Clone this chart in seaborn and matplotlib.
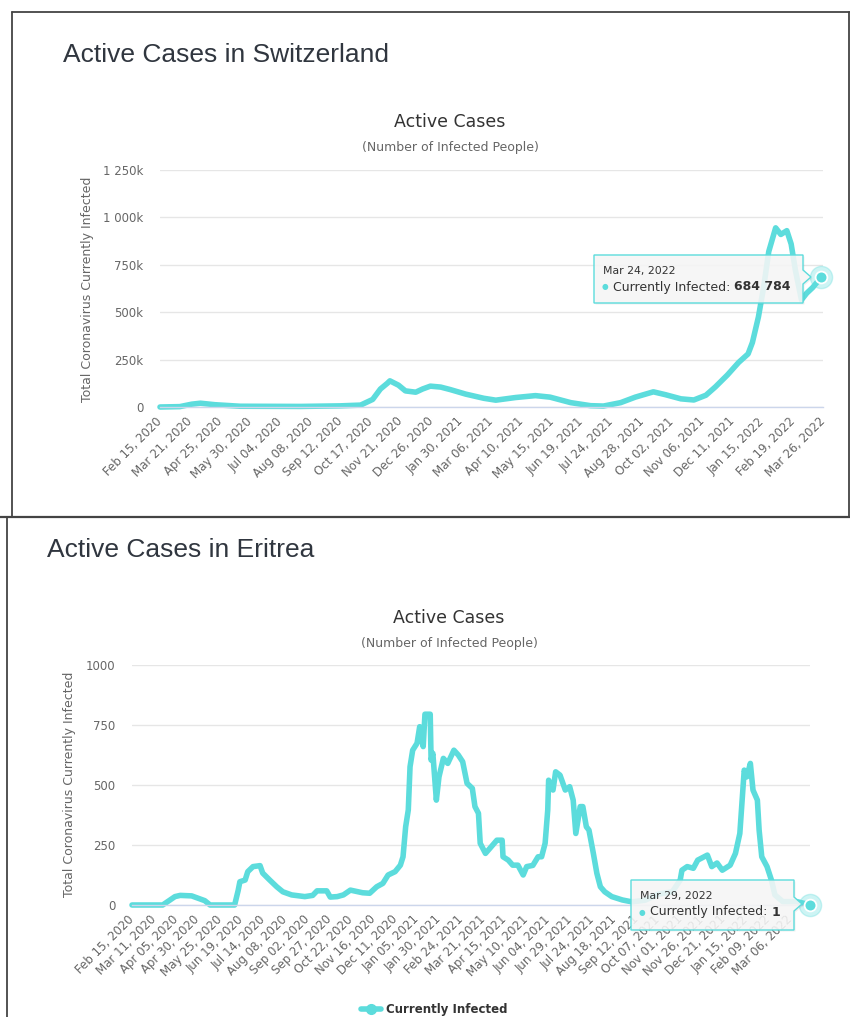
import numpy as np
import pandas as pd
import matplotlib
matplotlib.use("Agg")
import matplotlib.pyplot as plt
import seaborn as sns
from matplotlib.lines import Line2D
from matplotlib.patches import Polygon

# ---------------- data ----------------
ch_dates = ["2020-02-15", "2020-03-09", "2020-03-23", "2020-04-02", "2020-04-19", "2020-05-18",
            "2020-07-27", "2020-09-11", "2020-10-05", "2020-10-19", "2020-10-28", "2020-11-05",
            "2020-11-08", "2020-11-18", "2020-11-26", "2020-12-08", "2020-12-16", "2020-12-25",
            "2021-01-06", "2021-01-17", "2021-02-04", "2021-02-25", "2021-03-11", "2021-04-03",
            "2021-04-26", "2021-05-13", "2021-06-06", "2021-06-29", "2021-07-14", "2021-08-03",
            "2021-08-20", "2021-09-10", "2021-09-24", "2021-10-12", "2021-10-27", "2021-11-10",
            "2021-11-21", "2021-12-05", "2021-12-18", "2021-12-29", "2022-01-03", "2022-01-10",
            "2022-01-16", "2022-01-22", "2022-01-30", "2022-02-05", "2022-02-12", "2022-02-17",
            "2022-02-22", "2022-03-01", "2022-03-07", "2022-03-14", "2022-03-24"]
ch_values = [0, 2000, 15000, 20000, 12000, 4000,
             3000, 6000, 10000, 40000, 95000, 125000,
             138000, 115000, 85000, 78000, 95000, 110000,
             105000, 92000, 68000, 46000, 36000, 50000,
             60000, 52000, 23000, 7000, 5000, 23000,
             52000, 80000, 65000, 43000, 37000, 62000,
             106000, 169000, 235000, 280000, 340000, 475000,
             630000, 820000, 945000, 910000, 930000, 860000,
             720000, 565000, 600000, 630000, 684784]

er_dates = ["2020-02-15", "2020-03-21", "2020-04-04", "2020-04-10", "2020-04-23", "2020-05-08",
            "2020-05-14", "2020-06-11", "2020-06-15", "2020-06-17", "2020-06-23", "2020-06-26",
            "2020-07-02", "2020-07-10", "2020-07-13", "2020-07-21", "2020-07-29", "2020-08-05",
            "2020-08-15", "2020-08-30", "2020-09-08", "2020-09-13", "2020-09-24", "2020-09-28",
            "2020-10-06", "2020-10-13", "2020-10-21", "2020-11-04", "2020-11-12", "2020-11-20",
            "2020-11-27", "2020-12-03", "2020-12-11", "2020-12-17", "2020-12-20", "2020-12-23",
            "2020-12-26", "2020-12-28", "2020-12-31", "2021-01-05", "2021-01-08", "2021-01-12",
            "2021-01-14", "2021-01-20", "2021-01-21", "2021-01-23", "2021-01-27", "2021-01-30",
            "2021-02-04", "2021-02-09", "2021-02-16", "2021-02-21", "2021-02-26", "2021-03-03",
            "2021-03-09", "2021-03-12", "2021-03-16", "2021-03-18", "2021-03-24", "2021-03-29",
            "2021-04-06", "2021-04-12", "2021-04-13", "2021-04-19", "2021-04-24", "2021-04-30",
            "2021-05-06", "2021-05-10", "2021-05-17", "2021-05-23", "2021-05-27", "2021-05-31",
            "2021-06-03", "2021-06-04", "2021-06-09", "2021-06-12", "2021-06-17", "2021-06-23",
            "2021-06-28", "2021-07-02", "2021-07-05", "2021-07-10", "2021-07-13", "2021-07-17",
            "2021-07-20", "2021-07-25", "2021-07-29", "2021-08-02", "2021-08-07", "2021-08-15",
            "2021-08-27", "2021-09-07", "2021-09-22", "2021-10-07", "2021-10-23", "2021-11-01",
            "2021-11-03", "2021-11-09", "2021-11-16", "2021-11-21", "2021-12-02", "2021-12-07",
            "2021-12-13", "2021-12-19", "2021-12-28", "2022-01-03", "2022-01-08", "2022-01-13",
            "2022-01-16", "2022-01-20", "2022-01-23", "2022-01-28", "2022-01-30", "2022-02-02",
            "2022-02-08", "2022-02-13", "2022-02-17", "2022-02-26", "2022-03-14", "2022-03-29"]
er_values = [0, 0, 35, 40, 38, 18,
             0, 0, 60, 97, 104, 139,
             160, 164, 133, 104, 76, 55,
             42, 35, 40, 59, 59, 33,
             35, 42, 62, 51, 49, 76,
             90, 125, 139, 166, 201, 326,
             396, 576, 645, 674, 743, 660,
             795, 795, 604, 632, 437, 534,
             611, 590, 645, 625, 597, 507,
             486, 410, 382, 257, 215, 236,
             270, 270, 201, 187, 166, 166,
             125, 160, 165, 201, 201, 257,
             396, 520, 479, 555, 541, 479,
             493, 437, 298, 410, 410, 326,
             312, 215, 132, 76, 55, 35,
             21, 13, 20, 45, 55, 104,
             145, 160, 153, 187, 208, 160,
             175, 145, 166, 215, 298, 562,
             534, 590, 479, 437, 312, 201,
             160, 104, 42, 14, 14, 1]

ch_xtick_labels = ["Feb 15, 2020", "Mar 21, 2020", "Apr 25, 2020", "May 30, 2020", "Jul 04, 2020",
                   "Aug 08, 2020", "Sep 12, 2020", "Oct 17, 2020", "Nov 21, 2020", "Dec 26, 2020",
                   "Jan 30, 2021", "Mar 06, 2021", "Apr 10, 2021", "May 15, 2021", "Jun 19, 2021",
                   "Jul 24, 2021", "Aug 28, 2021", "Oct 02, 2021", "Nov 06, 2021", "Dec 11, 2021",
                   "Jan 15, 2022", "Feb 19, 2022", "Mar 26, 2022"]
er_xtick_labels = ["Feb 15, 2020", "Mar 11, 2020", "Apr 05, 2020", "Apr 30, 2020", "May 25, 2020",
                   "Jun 19, 2020", "Jul 14, 2020", "Aug 08, 2020", "Sep 02, 2020", "Sep 27, 2020",
                   "Oct 22, 2020", "Nov 16, 2020", "Dec 11, 2020", "Jan 05, 2021", "Jan 30, 2021",
                   "Feb 24, 2021", "Mar 21, 2021", "Apr 15, 2021", "May 10, 2021", "Jun 04, 2021",
                   "Jun 29, 2021", "Jul 24, 2021", "Aug 18, 2021", "Sep 12, 2021", "Oct 07, 2021",
                   "Nov 01, 2021", "Nov 26, 2021", "Dec 21, 2021", "Jan 15, 2022", "Feb 09, 2022",
                   "Mar 06, 2022"]
ch_yticks = [0, 250000, 500000, 750000, 1000000, 1250000]
ch_ytick_labels = ["0", "250k", "500k", "750k", "1 000k", "1 250k"]
er_yticks = [0, 250, 500, 750, 1000]
er_ytick_labels = ["0", "250", "500", "750", "1000"]

series_name = "Currently Infected"
ch_tooltip_value = "684 784"
er_tooltip_value = "1"

# ---------------- style ----------------
sns.set_theme(style="white")
plt.rcParams["font.family"] = ["DejaVu Sans"]

C = "#5cdcdc"
TXT = "#333333"
GREY = "#666666"
W, H = 850, 1017

fig = plt.figure(figsize=(W / 100, H / 100), dpi=100)
fig.patch.set_facecolor("white")


def fx(x):
    return x / W


def fy(y):
    return 1 - y / H


def ax_rect(x0, y0, x1, y1):
    return [fx(x0), fy(y1), (x1 - x0) / W, (y1 - y0) / H]


def draw_panel(ax, dates, values, xlabels, yticks, ylabels, xlim, ylim):
    d = pd.to_datetime(dates)
    sns.lineplot(x=d, y=values, ax=ax, color=C, linewidth=4.0)
    ln = ax.lines[-1]
    ln.set_clip_on(False)
    ln.set_solid_joinstyle("round")
    ln.set_solid_capstyle("round")
    # hover marker on last point
    ax.plot(d[-1:], values[-1:], "o", ms=16, color=C, alpha=0.3, clip_on=False, zorder=5)
    ax.plot(d[-1:], values[-1:], "o", ms=8.5, mfc=C, mec="white", mew=1.3, clip_on=False, zorder=6)
    ax.set_xlim(pd.to_datetime(xlim[0]), pd.to_datetime(xlim[1]))
    ax.set_ylim(*ylim)
    ax.set_yticks(yticks)
    ax.set_yticklabels(ylabels)
    xt = pd.to_datetime(xlabels, format="%b %d, %Y")
    ax.set_xticks(xt)
    ax.set_xticklabels(xlabels, rotation=45, ha="right", va="center", rotation_mode="anchor")
    ax.grid(axis="y", color="#e6e6e6", lw=1)
    ax.grid(axis="x", visible=False)
    ax.set_axisbelow(True)
    for s in ["top", "right", "left"]:
        ax.spines[s].set_visible(False)
    ax.spines["bottom"].set_color("#ccd6eb")
    ax.spines["bottom"].set_linewidth(1)
    ax.tick_params(axis="both", length=0, labelsize=8.5, labelcolor=GREY)
    ax.tick_params(axis="y", pad=12)
    ax.tick_params(axis="x", pad=9)
    ax.set_xlabel("")
    ax.set_ylabel("")
    ax.set_facecolor("none")


ax1 = fig.add_axes(ax_rect(160, 170, 823, 407))
draw_panel(ax1, ch_dates, ch_values, ch_xtick_labels, ch_yticks, ch_ytick_labels,
           ("2020-02-15", "2022-03-26"), (0, 1250000))

ax2 = fig.add_axes(ax_rect(132, 665, 810, 905))
draw_panel(ax2, er_dates, er_values, er_xtick_labels, er_yticks, er_ytick_labels,
           ("2020-02-15", "2022-03-29"), (0, 1000))

# ---------------- texts ----------------
fig.text(fx(63), fy(55), "Active Cases in Switzerland", fontsize=19, family="Liberation Sans",
         color="#30363f", va="center", ha="left")
fig.text(fx(450), fy(122), "Active Cases", fontsize=12.5, color=TXT, ha="center", va="center")
fig.text(fx(450), fy(147), "(Number of Infected People)", fontsize=9, color=GREY, ha="center", va="center")
fig.text(fx(87), fy(289), "Total Coronavirus Currently Infected", fontsize=9, color=GREY,
         rotation=90, ha="center", va="center")

fig.text(fx(47), fy(550), "Active Cases in Eritrea", fontsize=19, family="Liberation Sans",
         color="#30363f", va="center", ha="left")
fig.text(fx(449), fy(618), "Active Cases", fontsize=12.5, color=TXT, ha="center", va="center")
fig.text(fx(449), fy(643), "(Number of Infected People)", fontsize=9, color=GREY, ha="center", va="center")
fig.text(fx(69), fy(784), "Total Coronavirus Currently Infected", fontsize=9, color=GREY,
         rotation=90, ha="center", va="center")

# ---------------- panel borders ----------------
def hline(x0, x1, y, lw=1.3, c="#444444"):
    fig.add_artist(Line2D([fx(x0), fx(x1)], [fy(y), fy(y)], color=c, lw=lw, transform=fig.transFigure))


def vline(x, y0, y1, lw=1.3, c="#444444"):
    fig.add_artist(Line2D([fx(x), fx(x)], [fy(y0), fy(y1)], color=c, lw=lw, transform=fig.transFigure))


hline(12, 850, 12)
vline(12, 12, 517)
vline(849, 12, 517)
hline(0, 850, 517, lw=1.6)
vline(7, 517, 1017)


# ---------------- tooltips ----------------
def tooltip(x0, y0, x1, y1, tip_y, tip_x, date_txt, value_txt):
    pts = [(x0, y0), (x1, y0), (x1, tip_y - 7), (tip_x, tip_y), (x1, tip_y + 7), (x1, y1), (x0, y1)]
    sh = Polygon([(fx(x + 1.5), fy(y + 1.5)) for x, y in pts], closed=True, transform=fig.transFigure,
                 facecolor=(0, 0, 0, 0.06), edgecolor="none", zorder=8)
    fig.add_artist(sh)
    poly = Polygon([(fx(x), fy(y)) for x, y in pts], closed=True, transform=fig.transFigure,
                   facecolor=(0.969, 0.969, 0.969, 0.88), edgecolor=C, lw=1, zorder=9)
    fig.add_artist(poly)
    fig.text(fx(x0 + 9), fy(y0 + 16), date_txt, fontsize=7.8, color=TXT, va="center", ha="left", zorder=10)
    fig.text(fx(x0 + 11), fy(y0 + 32), "\u25cf", fontsize=5.5, color=C, va="center", ha="center", zorder=10)
    t2 = fig.text(fx(x0 + 19), fy(y0 + 32), series_name + ": ", fontsize=9, color=TXT,
                  va="center", ha="left", zorder=10)
    r = fig.canvas.get_renderer()
    bb = t2.get_window_extent(renderer=r)
    fig.text(bb.x1 / W, fy(y0 + 32), value_txt, fontsize=9, color=TXT, weight="bold",
             va="center", ha="left", zorder=10)


tooltip(594, 255, 803, 303, 277, 811, "Mar 24, 2022", ch_tooltip_value)
tooltip(631, 880, 794, 930, 904, 802, "Mar 29, 2022", er_tooltip_value)

# ---------------- legend ----------------
handle = Line2D([], [], color=C, lw=4, marker="o", ms=7, solid_capstyle="round")
leg = fig.legend([handle], [series_name], loc="center", bbox_to_anchor=(fx(434), fy(1010)),
                 bbox_transform=fig.transFigure, frameon=False, handlelength=1.7, handletextpad=0.4,
                 prop={"size": 8.5, "weight": "bold"})
for t in leg.get_texts():
    t.set_color(TXT)

fig.savefig("out.png", dpi=100, facecolor="white")
